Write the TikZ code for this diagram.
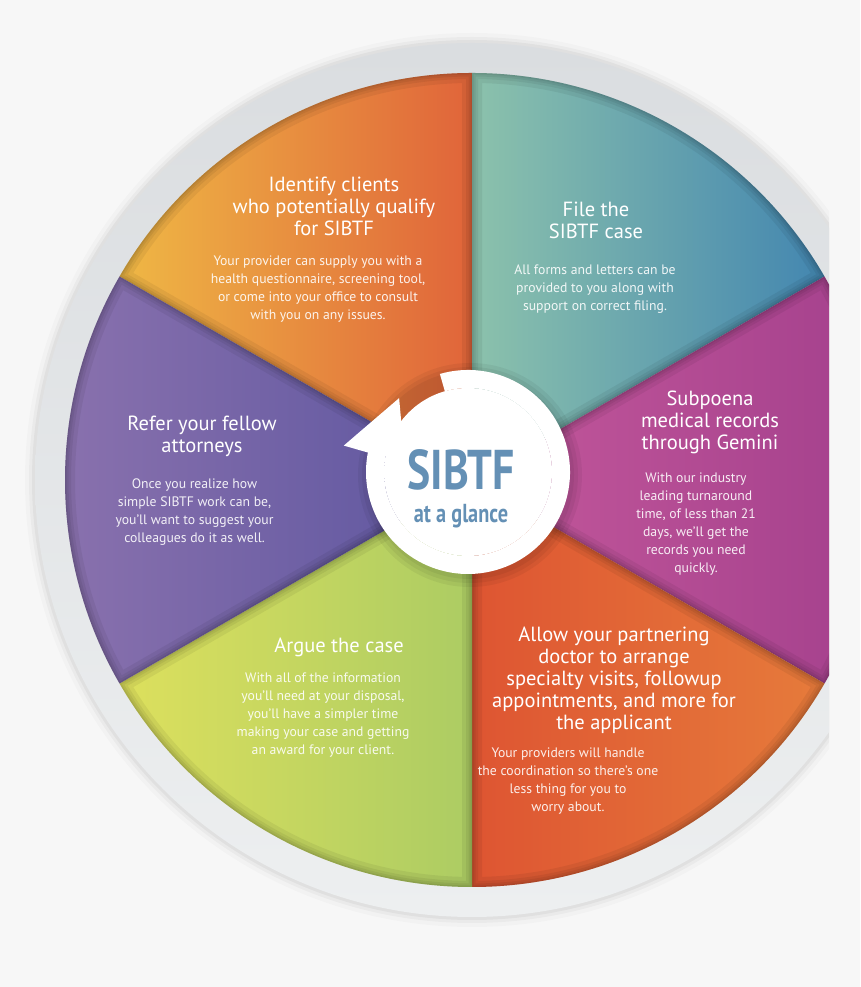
\documentclass[tikz,border=0pt]{standalone}
\usepackage{fontspec}
\setmainfont{PT Sans}
\newfontfamily\hubfont[FakeStretch=0.78]{PT Sans}
\usetikzlibrary{positioning}

\definecolor{pagebg}{HTML}{F7F7F7}
\definecolor{rimtop}{HTML}{DADDE0}
\definecolor{rimbot}{HTML}{EDEFF0}
\definecolor{hubblue}{HTML}{6490B5}
% wedge colours, left and right end of each gradient
\definecolor{idL}{HTML}{EFB845}
\definecolor{idR}{HTML}{E0643A}
\definecolor{fileL}{HTML}{8CC2AC}
\definecolor{fileR}{HTML}{4386B0}
\definecolor{subL}{HTML}{C4589B}
\definecolor{subR}{HTML}{A23F8C}
\definecolor{docL}{HTML}{DE5532}
\definecolor{docR}{HTML}{E67B3B}
\definecolor{argL}{HTML}{DDE05D}
\definecolor{argR}{HTML}{ACCC63}
\definecolor{refL}{HTML}{8B72AE}
\definecolor{refR}{HTML}{5C559F}

\pgfdeclareradialshading{hubshade}{\pgfpoint{0bp}{0bp}}{color(0bp)=(white); color(36bp)=(white); color(50bp)=(black!20)}

\tikzset{
    headtext/.style={text=white, align=center, anchor=base, inner sep=0pt, font=\fontsize{20.5}{22}\selectfont},
    bodytext/.style={text=white, text opacity=0.9, align=center, inner sep=0pt, font=\fontsize{13.7}{18}\selectfont},
    hubtext/.style={text=hubblue, inner sep=0pt},
}

\begin{document}
\begin{tikzpicture}[x=1pt, y=1pt]
    \useasboundingbox (0,0) rectangle (860,987);
    \fill[pagebg] (0,0) rectangle (860,987);
    \coordinate (hub) at (472,507);
    \coordinate (ringc) at (468,515);

    \begin{scope}
        \clip (0,0) rectangle (829,987);
        % Grey rim
        \foreach \r/\o in {447/0.02, 443/0.03, 440/0.04}
            \fill[black, opacity=\o] (hub) circle[radius=\r];
        \shade[top color=rimtop, bottom color=rimbot] (hub) circle[radius=437];

        % Six wedges
        \foreach \a/\colL/\colR in {90/idL/idR, 30/fileL/fileR, -30/subL/subR, -90/docL/docR, -150/argL/argR, 150/refL/refR}{
            \shade[left color=\colL, right color=\colR] (hub) -- ++(\a:407) arc[start angle=\a, end angle=\a+60, radius=407] -- cycle;
            \begin{scope}
                \clip (hub) -- ++(\a:407) arc[start angle=\a, end angle=\a+60, radius=407] -- cycle;
                \foreach \w in {20,12,7,3}
                    \draw[black, opacity=0.06, line width=\w pt] (hub) -- ++(\a:407) arc[start angle=\a, end angle=\a+60, radius=407] -- cycle;
            \end{scope}
        }
    \end{scope}

    % Hub shadow, disc and arrow ring
    \foreach \r in {104,108,112}
        \fill[black, opacity=0.05] (ringc) ++(2,-3) circle[radius=\r];
    \shade[shading=hubshade] (ringc) circle[radius=84];
    \fill[white] ([shift={(106:102)}]ringc) arc[start angle=106, end angle=-191, radius=102]
        -- ([shift={(168:127)}]ringc) -- ([shift={(133:101)}]ringc) -- ([shift={(171:64)}]ringc)
        -- ([shift={(169:84)}]ringc) arc[start angle=-191, end angle=106, radius=84] -- cycle;

    % Hub title
    \node[hubtext, anchor=base, font=\hubfont\bfseries\fontsize{56}{56}\selectfont] (hubtitle) at (461,497) {SIBTF};
    \node[hubtext, below=13pt of hubtitle, font=\hubfont\bfseries\fontsize{26}{26}\selectfont] (hubsub) {at a glance};

    % Wedge texts
    \node[headtext] (idhead) at (334,751) {Identify clients\\who potentially qualify\\for SIBTF};
    \node[bodytext, below=19pt of idhead, xshift=-16pt] (idbody) {Your provider can supply you with a\\health questionnaire, screening tool,\\or come into your office to consult\\with you on any issues.};

    \node[headtext] (filehead) at (596,748) {File the\\SIBTF case};
    \node[bodytext, below=25pt of filehead, xshift=-1pt] (filebody) {All forms and letters can be\\provided to you along with\\support on correct filing.};

    \node[headtext] (subhead) at (710,537) {Subpoena\\medical records\\through Gemini};
    \node[bodytext, below=18.5pt of subhead, xshift=-14pt] (subbody) {With our industry\\leading turnaround\\time, of less than 21\\days, we'll get the\\records you need\\quickly.};

    \node[headtext] (dochead) at (614,257) {Allow your partnering\\doctor to arrange\\specialty visits, followup\\appointments, and more for\\the applicant};
    \node[bodytext, below=13.5pt of dochead, xshift=-46pt] (docbody) {Your providers will handle\\the coordination so there's one\\less thing for you to\\worry about.};

    \node[headtext] (arghead) at (339,334) {Argue the case};
    \node[bodytext, below=15.5pt of arghead, xshift=-16pt] (argbody) {With all of the information\\you'll need at your disposal,\\you'll have a simpler time\\making your case and getting\\an award for your client.};

    \node[headtext] (refhead) at (202,534) {Refer your fellow\\attorneys};
    \node[bodytext, below=21.5pt of refhead, xshift=-7.5pt] (refbody) {Once you realize how\\simple SIBTF work can be,\\you'll want to suggest your\\colleagues do it as well.};
\end{tikzpicture}
\end{document}
